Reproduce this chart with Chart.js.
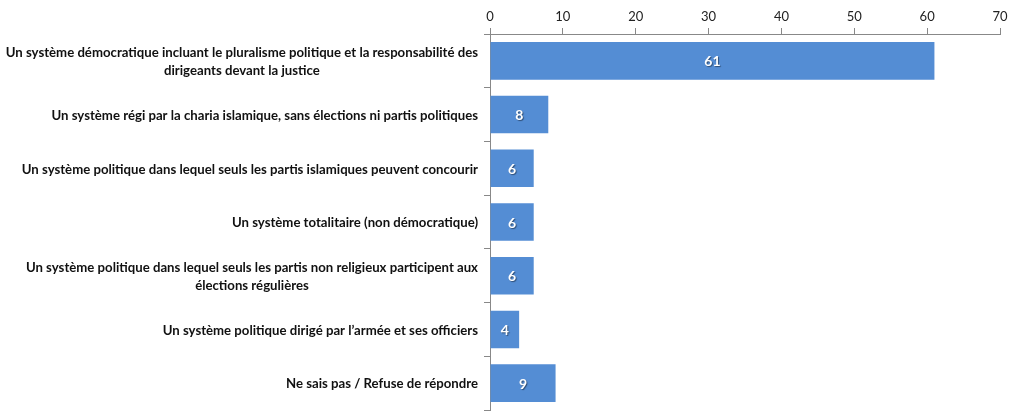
<!DOCTYPE html>
<html>
<head>
<meta charset="utf-8">
<script src="https://cdn.jsdelivr.net/npm/chart.js@4"></script>
<style>
  html, body { margin: 0; padding: 0; background: #fff; }
  #wrap { width: 1024px; height: 415px; }
</style>
</head>
<body>
<div id="wrap"><canvas id="systemChart"></canvas></div>
<script>
const categories = [
    ['Un système démocratique incluant le pluralisme politique et la responsabilité des', 'dirigeants devant la justice'],
    ['Un système régi par la charia islamique, sans élections ni partis politiques'],
    ['Un système politique dans lequel seuls les partis islamiques peuvent concourir'],
    ['Un système totalitaire (non démocratique)'],
    ['Un système politique dans lequel seuls les partis non religieux participent aux', 'élections régulières'],
    ['Un système politique dirigé par l\u2019armée et ses officiers'],
    ['Ne sais pas / Refuse de répondre']
];
const values = [61, 8, 6, 6, 6, 4, 9];
const axisTicks = [0, 10, 20, 30, 40, 50, 60, 70];

const FONT = 'Lato, "Open Sans", sans-serif';

// Draw category labels as right-aligned blocks with centred lines
const categoryLabels = {
    id: 'categoryLabels',
    afterDraw(chart) {
        const ctx = chart.ctx;
        const yScale = chart.scales.y;
        const right = chart.chartArea.left - 12;
        const lineHeight = 18;
        ctx.save();
        ctx.font = 'bold 13.2px ' + FONT;
        ctx.fillStyle = '#111';
        ctx.textAlign = 'center';
        ctx.textBaseline = 'middle';
        categories.forEach((lines, i) => {
            const yc = yScale.getPixelForValue(i) + 1;
            const blockWidth = Math.max(...lines.map(l => ctx.measureText(l).width));
            const xc = right - blockWidth / 2;
            const y0 = yc - (lines.length - 1) * lineHeight / 2;
            lines.forEach((line, j) => ctx.fillText(line, xc, y0 + j * lineHeight));
        });
        ctx.restore();
    }
};

// Value labels inside the bars
const valueLabels = {
    id: 'valueLabels',
    afterDatasetsDraw(chart) {
        const ctx = chart.ctx;
        const meta = chart.getDatasetMeta(0);
        ctx.save();
        ctx.font = 'bold 14px ' + FONT;
        ctx.textAlign = 'center';
        ctx.textBaseline = 'middle';
        ctx.shadowColor = 'rgba(0,0,0,0.45)';
        ctx.shadowOffsetX = 1;
        ctx.shadowOffsetY = 1;
        ctx.shadowBlur = 1;
        ctx.fillStyle = '#fff';
        meta.data.forEach((bar, i) => {
            ctx.fillText(values[i], (bar.x + bar.base) / 2, bar.y + 1);
        });
        ctx.restore();
    }
};

new Chart(document.getElementById('systemChart').getContext('2d'), {
    type: 'bar',
    data: {
        labels: categories,
        datasets: [{
            data: values,
            backgroundColor: 'rgb(84, 141, 212)',
            borderWidth: 0,
            barPercentage: 0.7,
            categoryPercentage: 1
        }]
    },
    plugins: [categoryLabels, valueLabels],
    options: {
        indexAxis: 'y',
        responsive: true,
        maintainAspectRatio: false,
        animation: false,
        layout: { padding: { left: 0, right: 24, top: 0, bottom: 5 } },
        scales: {
            x: {
                position: 'top',
                min: 0,
                max: 70,
                afterBuildTicks: scale => { scale.ticks = axisTicks.map(v => ({ value: v })); },
                afterFit: scale => { scale.height = 34; },
                ticks: {
                    font: { size: 13, family: FONT },
                    color: '#222',
                    padding: 3
                },
                grid: { drawOnChartArea: false, tickLength: 6, color: '#888' },
                border: { color: '#888' }
            },
            y: {
                afterFit: scale => { scale.width = 490; },
                ticks: { display: false },
                grid: { offset: true, drawOnChartArea: false, tickLength: 6, color: '#888' },
                border: { color: '#888' }
            }
        },
        plugins: {
            legend: { display: false },
            tooltip: { enabled: false }
        }
    }
});
</script>
</body>
</html>
